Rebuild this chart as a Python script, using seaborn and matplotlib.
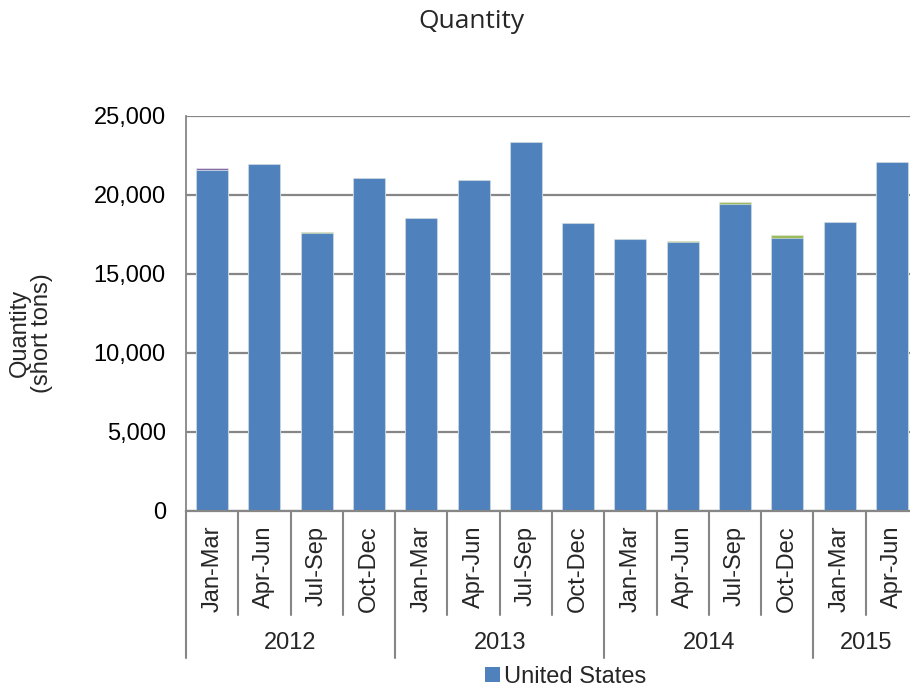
import matplotlib
matplotlib.use("Agg")
import matplotlib.pyplot as plt
import matplotlib.transforms as mtransforms
from matplotlib.patches import Patch
from matplotlib.ticker import FuncFormatter
import seaborn as sns
import pandas as pd

# ---- data ----
quarters = ["Jan-Mar", "Apr-Jun", "Jul-Sep", "Oct-Dec",
            "Jan-Mar", "Apr-Jun", "Jul-Sep", "Oct-Dec",
            "Jan-Mar", "Apr-Jun", "Jul-Sep", "Oct-Dec",
            "Jan-Mar", "Apr-Jun"]
years = ["2012"] * 4 + ["2013"] * 4 + ["2014"] * 4 + ["2015"] * 2
year_labels = ["2012", "2013", "2014", "2015"]
united_states = [21560, 21950, 17580, 21060, 18540, 20950, 23300, 18210,
                 17200, 16980, 19410, 17260, 18250, 22070]
other_green = [0, 0, 80, 0, 0, 0, 0, 0, 0, 100, 130, 210, 40, 0]
other_purple = [140, 0, 0, 0, 0, 0, 0, 0, 0, 0, 0, 0, 0, 0]

BLUE = "#4F81BD"
GREEN = "#9BBB59"
PURPLE = "#8064A2"
GRID = "#868686"
FS = 17

sns.set_style("white")
plt.rcParams["font.family"] = ["Liberation Sans", "DejaVu Sans"]

df = pd.DataFrame({
    "period": [f"{y} {q}" for y, q in zip(years, quarters)],
    "us": united_states,
})
df["green_top"] = df["us"] + pd.Series(other_green)
df["purple_top"] = df["green_top"] + pd.Series(other_purple)
order = list(df["period"])

fig = plt.figure(figsize=(9.10, 6.89), dpi=100)
W, H = 910, 689
left_px, right_px, top_px, bot_px = 186, 918, 115.6, 510.5
ax = fig.add_axes([left_px / W, 1 - bot_px / H, (right_px - left_px) / W, (bot_px - top_px) / H])

edge = (1, 1, 1, 0.45)
sns.barplot(data=df, x="period", y="purple_top", order=order, color=PURPLE,
            saturation=1, width=0.61, errorbar=None, ax=ax, edgecolor=edge, linewidth=0.8)
sns.barplot(data=df, x="period", y="green_top", order=order, color=GREEN,
            saturation=1, width=0.61, errorbar=None, ax=ax, edgecolor=edge, linewidth=0.8)
sns.barplot(data=df, x="period", y="us", order=order, color=BLUE,
            saturation=1, width=0.61, errorbar=None, ax=ax, edgecolor=edge, linewidth=0.8)

ax.set_ylim(0, 25000)
ax.set_xlim(-0.5, len(order) - 0.5)
ax.set_yticks(range(0, 25001, 5000))
ax.yaxis.set_major_formatter(FuncFormatter(lambda v, p: f"{int(v):,}"))
ax.grid(axis="y", color=GRID, linewidth=1.6)
ax.set_axisbelow(True)
for s in ["top", "right"]:
    ax.spines[s].set_visible(False)
ax.spines["left"].set_color(GRID)
ax.spines["left"].set_linewidth(1.3)
ax.spines["bottom"].set_color(GRID)
ax.spines["bottom"].set_linewidth(1.6)
ax.tick_params(axis="y", direction="out", length=4.5, width=1.3, color=GRID,
               labelsize=FS, pad=10, labelcolor="black")
ax.set_xticks(range(len(order)))
ax.set_xticklabels(quarters, rotation=90, fontsize=FS, va="top")
ax.tick_params(axis="x", length=0, pad=11)
ax.set_xlabel("")
ax.set_ylabel("")

# category separators
trans = mtransforms.blended_transform_factory(ax.transData, ax.transAxes)
plot_h = bot_px - top_px
q_end = (bot_px - 615) / plot_h
y_end = (bot_px - 658) / plot_h
year_bounds = {0, 4, 8, 12}
for k in range(0, len(order)):
    xb = k - 0.5
    yend = y_end if k in year_bounds else q_end
    ax.plot([xb, xb], [0, yend], color=GRID, linewidth=1.5,
            transform=trans, clip_on=False)

# year labels
year_pos = {}
for i, y in enumerate(years):
    year_pos.setdefault(y, []).append(i)
ly = (bot_px - 643) / plot_h
for y in year_labels:
    pos = year_pos[y]
    ax.text(sum(pos) / len(pos), ly, y, transform=trans, ha="center", va="center",
            fontsize=FS)

# title and y label
fig.text(471 / W, 1 - 22 / H, "Quantity", ha="center", va="center",
         fontsize=19, family=["Open Sans", "DejaVu Sans"])
fig.text(31 / W, 1 - 333 / H, "Quantity\n(short tons)", ha="center", va="center",
         rotation=90, fontsize=FS, multialignment="center", linespacing=1.05)

# legend
fig.legend(handles=[Patch(facecolor=BLUE, edgecolor="none", label="United States")],
           loc="center", bbox_to_anchor=(566 / W, 1 - 677 / H), frameon=False,
           fontsize=FS, handlelength=0.6, handleheight=0.6, handletextpad=0.2,
           borderpad=0, borderaxespad=0)

fig.savefig("out.png", dpi=100)
